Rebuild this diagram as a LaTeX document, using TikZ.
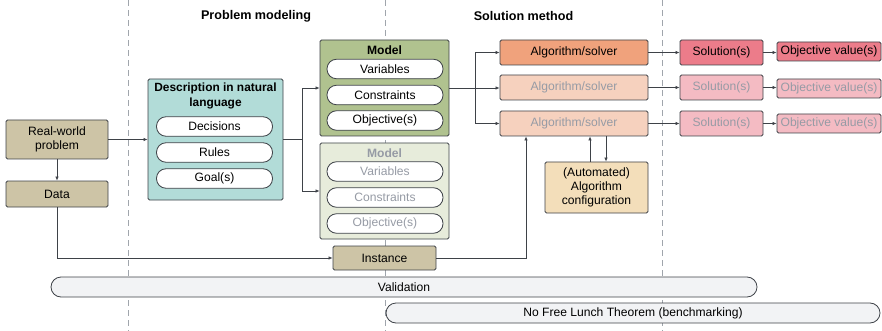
\documentclass[tikz,border=0pt]{standalone}
\usepackage{fontspec}
\setmainfont{Liberation Sans}
\usetikzlibrary{arrows.meta}

\definecolor{edge}{RGB}{62,66,72}
\definecolor{fadetext}{RGB}{150,155,165}
\definecolor{sepline}{RGB}{160,165,172}
\definecolor{tanfill}{RGB}{205,196,166}
\definecolor{tealfill}{RGB}{178,220,216}
\definecolor{modelfill}{RGB}{176,194,143}
\definecolor{modelfade}{RGB}{231,236,219}
\definecolor{algfill}{RGB}{240,162,124}
\definecolor{algfade}{RGB}{246,209,190}
\definecolor{conffill}{RGB}{243,222,186}
\definecolor{solfill}{RGB}{236,124,138}
\definecolor{solfade}{RGB}{244,187,195}
\definecolor{barfill}{RGB}{242,243,245}

\begin{document}
\begin{tikzpicture}[x=1pt, y=-1pt,
    font=\fontsize{12.1}{14}\selectfont,
    box/.style={draw=edge, line width=0.8pt, rounded corners=1.5pt, inner sep=0pt, align=center},
    pill/.style={draw=edge, fill=white, line width=0.8pt, rounded corners=9.5pt,
      minimum width=116pt, minimum height=19.5pt, inner sep=0pt},
    bar/.style={draw=edge, fill=barfill, line width=0.8pt, rounded corners=10pt,
      minimum height=20pt, inner sep=0pt},
    link/.style={draw=edge, line width=0.7pt, -{Latex[length=4pt,width=3.5pt]}},
    faded/.style={text=fadetext}
    ]
    \useasboundingbox (0,0) rectangle (882,331);
    % section separators
    \draw[sepline, line width=0.9pt, dash pattern=on 6pt off 4pt] (128,0) -- (128,331);
    \draw[sepline, line width=0.9pt, dash pattern=on 6pt off 4pt] (385,0) -- (385,331);
    \draw[sepline, line width=0.9pt, dash pattern=on 6pt off 4pt] (662,0) -- (662,331);
    \node[font=\fontsize{12.6}{15}\selectfont\bfseries] (hmodel) at (256,16) {Problem modeling};
    \node[font=\fontsize{12.6}{15}\selectfont\bfseries] (hsolve) at (523.5,16) {Solution method};

    % problem and data
    \node[box, fill=tanfill, minimum width=102pt, minimum height=39pt] (rw) at (57,139.5) {Real-world\\problem};
    \node[box, fill=tanfill, minimum width=102pt, minimum height=26pt] (data) at (57,194) {Data};

    % description
    \node[box, fill=tealfill, minimum width=135pt, minimum height=121pt] (desc) at (215.5,139.5) {};
    \node[font=\fontsize{11.9}{15}\selectfont\bfseries, align=center] (desct) at (215.5,95.5) {Description in natural\\language};
    \node[pill] (dec) at (214.5,126.5) {Decisions};
    \node[pill] (rul) at (214.5,152.5) {Rules};
    \node[pill] (goa) at (214.5,178.5) {Goal(s)};

    % models
    \node[box, fill=modelfill, minimum width=129pt, minimum height=96pt] (m1) at (384.5,88) {};
    \node[font=\fontsize{12.1}{14}\selectfont\bfseries] (m1t) at (384.5,50) {Model};
    \node[pill] (m1v) at (385,69) {Variables};
    \node[pill] (m1c) at (385,95) {Constraints};
    \node[pill] (m1o) at (385,120.5) {Objective(s)};

    \node[box, fill=modelfade, minimum width=129pt, minimum height=96pt] (m2) at (384.5,191) {};
    \node[font=\fontsize{12.1}{14}\selectfont\bfseries, faded] (m2t) at (384.5,153) {Model};
    \node[pill, faded] (m2v) at (385,171.5) {Variables};
    \node[pill, faded] (m2c) at (385,197.5) {Constraints};
    \node[pill, faded] (m2o) at (385,223.5) {Objective(s)};

    \node[box, fill=tanfill, minimum width=103pt, minimum height=24pt] (inst) at (384.5,258) {Instance};

    % solution method
    \node[box, fill=algfill, minimum width=148pt, minimum height=25pt] (alg1) at (574,52.5) {Algorithm/solver};
    \node[box, fill=algfade, faded, minimum width=148pt, minimum height=25pt] (alg2) at (574,87.5) {Algorithm/solver};
    \node[box, fill=algfade, faded, minimum width=148pt, minimum height=25pt] (alg3) at (574,123.5) {Algorithm/solver};
    \node[box, fill=conffill, minimum width=103pt, minimum height=51pt] (conf) at (596.5,187.5) {(Automated)\\Algorithm\\configuration};

    \node[box, fill=solfill, minimum width=83pt, minimum height=25pt] (sol1) at (721.5,52.5) {Solution(s)};
    \node[box, fill=solfade, faded, minimum width=83pt, minimum height=25pt] (sol2) at (721.5,87.5) {Solution(s)};
    \node[box, fill=solfade, faded, minimum width=83pt, minimum height=25pt] (sol3) at (721.5,123.5) {Solution(s)};

    \node[box, fill=solfill, minimum width=104pt, minimum height=19pt] (obj1) at (829,51.5) {Objective value(s)};
    \node[box, fill=solfade, faded, minimum width=104pt, minimum height=19pt] (obj2) at (829,88.5) {Objective value(s)};
    \node[box, fill=solfade, faded, minimum width=104pt, minimum height=19pt] (obj3) at (829,123.5) {Objective value(s)};

    % bars
    \node[bar, minimum width=706pt] (val) at (404,287) {Validation};
    \node[bar, minimum width=494pt] (nfl) at (633,313) {No Free Lunch Theorem (benchmarking)};

    % connectors
    \draw[link] (rw) -- (data);
    \draw[link] (rw.east) -- (desc.west |- rw.east);
    \draw[link] (desc.east) -- ++(19,0) |- (m1.west);
    \draw[link] (desc.east) -- ++(19,0) |- (m2.west);
    \draw[link] (data.south) |- (inst.west);
    \draw[link] (m1.east) -- ++(26,0) |- (alg1.west);
    \draw[link] (m1.east) -- (alg2.west |- m1.east);
    \draw[link] (m1.east) -- ++(26,0) |- (alg3.west);
    \draw[link] (inst.east) -| ([xshift=-48pt]alg3.south);
    \draw[link] ([xshift=-6.5pt]conf.north) -- ([xshift=-6.5pt]conf.north |- alg3.south);
    \draw[link] ([xshift=9.5pt]conf.north |- alg3.south) -- ([xshift=9.5pt]conf.north);
    \draw[link] (alg1) -- (sol1);
    \draw[link] (alg2) -- (sol2);
    \draw[link] (alg3) -- (sol3);
    \draw[link] (sol1.east) -- (obj1.west |- sol1.east);
    \draw[link] (sol2.east) -- (obj2.west |- sol2.east);
    \draw[link] (sol3) -- (obj3);
\end{tikzpicture}
\end{document}
